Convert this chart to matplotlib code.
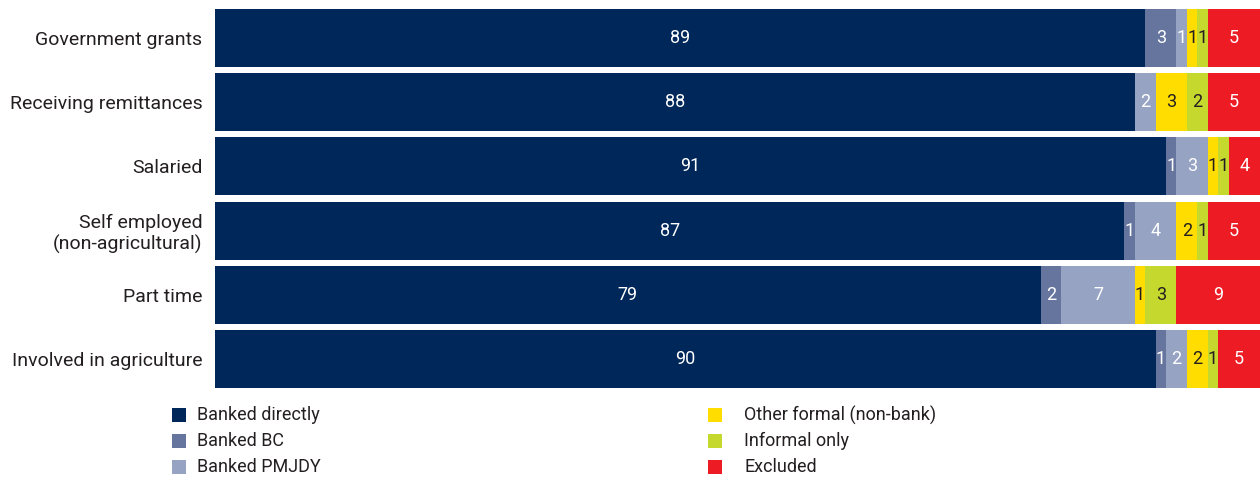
import matplotlib
matplotlib.use("Agg")
import matplotlib.pyplot as plt
from matplotlib.patches import Rectangle
import numpy as np

plt.rcParams['font.family'] = ['Roboto', 'DejaVu Sans']

categories = [
    "Government grants",
    "Receiving remittances",
    "Salaried",
    "Self employed\n(non-agricultural)",
    "Part time",
    "Involved in agriculture",
]
series_names = [
    "Banked directly", "Banked BC", "Banked PMJDY",
    "Other formal (non-bank)", "Informal only", "Excluded",
]
banked_directly = [89, 88, 91, 87, 79, 90]
banked_bc       = [3, 0, 1, 1, 2, 1]
banked_pmjdy    = [1, 2, 3, 4, 7, 2]
other_formal    = [1, 3, 1, 2, 1, 2]
informal_only   = [1, 2, 1, 1, 3, 1]
excluded        = [5, 5, 4, 5, 9, 5]

series = [banked_directly, banked_bc, banked_pmjdy, other_formal, informal_only, excluded]
colors = ["#00275A", "#66759E", "#97A3C3", "#FFDD00", "#C4D82E", "#ED1C24"]
text_colors = ["white", "white", "white", "#231F20", "#231F20", "white"]

W, H = 1260, 479
fig = plt.figure(figsize=(W / 100, H / 100), dpi=100)
ax = fig.add_axes([215 / W, 1 - 388 / H, 1045 / W, 379 / H])

y = np.arange(len(categories))
left = np.zeros(len(categories))
XMAX = 100
for vals, col, tcol in zip(series, colors, text_colors):
    vals = np.array(vals, dtype=float)
    ax.barh(y, vals, left=left, height=0.9, color=col, edgecolor="none")
    for i, v in enumerate(vals):
        if v > 0:
            a, b = left[i], min(left[i] + v, XMAX)
            ax.text((a + b) / 2, y[i], f"{int(v)}", ha="center", va="center",
                    color=tcol, fontsize=13)
    left += vals

ax.set_xlim(0, XMAX)
ax.set_ylim(len(categories) - 0.55, -0.45)
ax.set_yticks(y)
ax.set_yticklabels(categories, fontsize=14, color="#231F20", linespacing=1.15)
ax.tick_params(axis="y", length=0, pad=9)
ax.set_xticks([])
for s in ax.spines.values():
    s.set_visible(False)

# legend drawn in two columns below the bars
legend_cols = [(172, 197), (708, 744)]
legend_rows = [415, 441, 467]
sq = 14
for k, (name, col) in enumerate(zip(series_names, colors)):
    cx, tx = legend_cols[k // 3]
    ry = legend_rows[k % 3]
    fig.add_artist(Rectangle((cx / W, 1 - (ry + sq / 2) / H), sq / W, sq / H,
                             transform=fig.transFigure, color=col, lw=0))
    fig.text(tx / W, 1 - ry / H, name, ha="left", va="center",
             fontsize=13, color="#231F20")

fig.savefig("out.png", dpi=100)
